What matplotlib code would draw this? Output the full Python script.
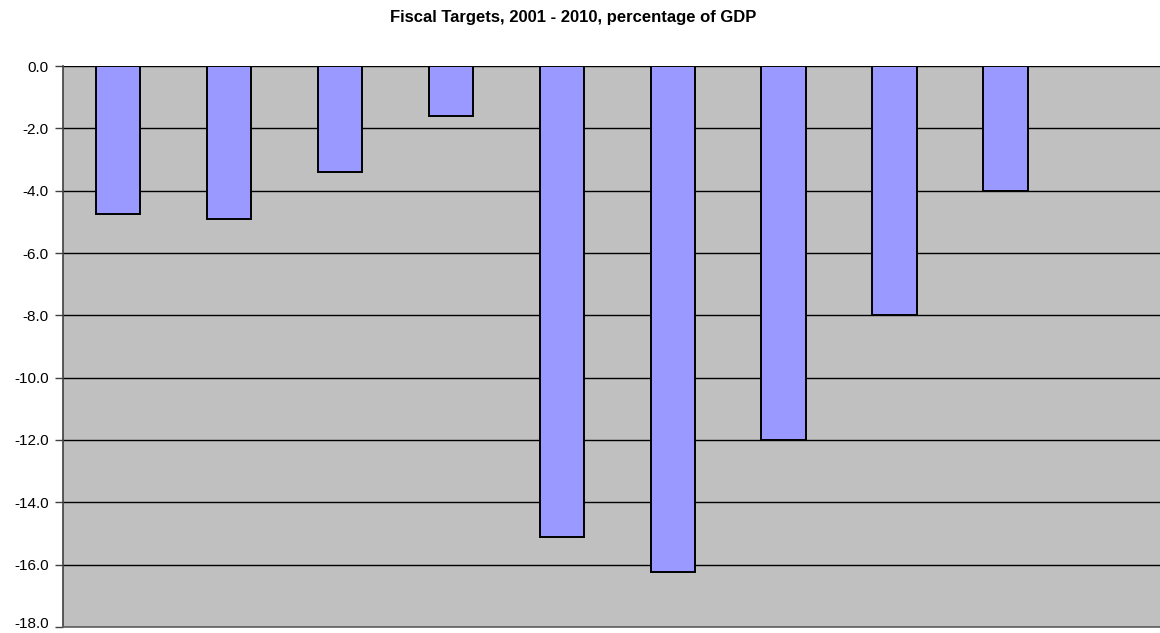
import numpy as np
import matplotlib.pyplot as plt
import matplotlib.transforms as mtransforms

# Fiscal balance targets, % of GDP
years = ['2001', '2002', '2003', '2004', '2005', '2006', '2007', '2008', '2009', '2010']
targets = [-4.75, -4.9, -3.4, -1.6, -15.1, -16.25, -12.0, -8.0, -4.0, np.nan]
yticks = [0.0, -2.0, -4.0, -6.0, -8.0, -10.0, -12.0, -14.0, -16.0, -18.0]

BAR = '#9999FF'
PLOT_BG = '#C0C0C0'

plt.rcParams['font.family'] = ['Liberation Sans', 'DejaVu Sans']

fig = plt.figure(figsize=(11.6, 6.33), dpi=100)
ax = fig.add_axes([0.0539, 0.0095, 0.9461, 0.8862])
ax.set_facecolor(PLOT_BG)

x = np.arange(len(years))
ax.bar(x, targets, width=0.4, color=BAR, edgecolor='black', linewidth=1.4, zorder=3)

ax.set_ylim(-18, 0)
ax.set_yticks(yticks)
ax.set_yticklabels([f'{v:.1f}' for v in yticks], fontsize=11)
ax.set_xlim(-0.5, len(years) - 0.5 - 12 / 111)
ax.set_xticks([])
ax.yaxis.grid(True, color='black', linewidth=1.0, zorder=1)
ax.set_axisbelow(True)

for s in ['top', 'right']:
    ax.spines[s].set_visible(False)
ax.spines['left'].set_color('#404040')
ax.spines['left'].set_linewidth(1.2)
ax.spines['bottom'].set_color('#606060')
ax.spines['bottom'].set_linewidth(1.2)
ax.tick_params(axis='y', length=6, width=1, color='#404040', pad=4)

# lift the bottom label a touch so it stays inside the figure
lbl = ax.get_yticklabels()[-1]
lbl.set_transform(lbl.get_transform() +
                  mtransforms.ScaledTranslation(0, 3 / 72, fig.dpi_scale_trans))

fig.text(0.494, 0.9716, 'Fiscal Targets, 2001 - 2010, percentage of GDP',
         ha='center', va='center', fontsize=12, fontweight='bold')

fig.savefig('out.png', dpi=100, facecolor='white')
